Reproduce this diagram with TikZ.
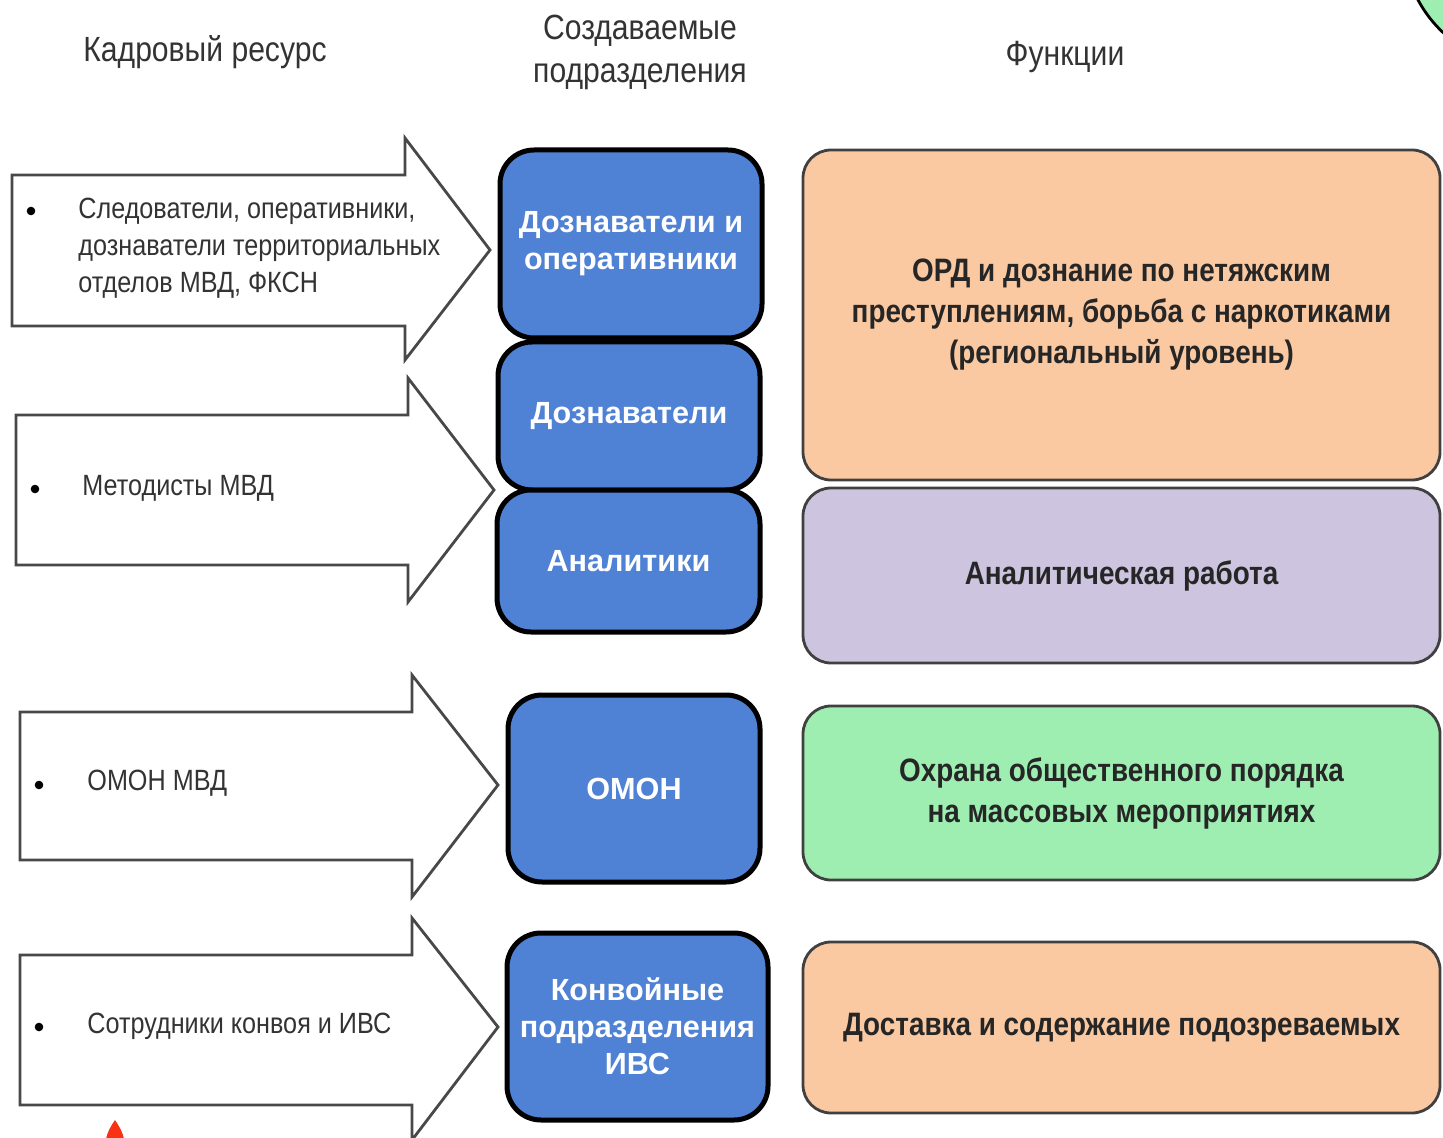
\documentclass[tikz,border=0pt]{standalone}
\usepackage{fontspec}
\setmainfont{Liberation Sans}
\newfontfamily\narrowfont[FakeStretch=0.86]{Liberation Sans}
\definecolor{boxblue}{RGB}{79,129,212}
\definecolor{funcorange}{RGB}{250,201,162}
\definecolor{funcviolet}{RGB}{205,197,223}
\definecolor{funcgreen}{RGB}{158,238,178}
\definecolor{arrowline}{RGB}{72,72,72}
\definecolor{markred}{RGB}{250,50,20}
\begin{document}
\begin{tikzpicture}[x=0.5pt,y=0.5pt,yscale=-1,
  resarrow/.style={draw=arrowline, line width=1.4pt, fill=white, line join=miter},
  unitbox/.style={draw=black, line width=2.5pt, fill=boxblue, rounded corners=17pt, text=white, font=\bfseries\fontsize{15.3}{18.5}\selectfont, align=center, inner sep=0pt},
  funcbox/.style={draw=black!75, line width=1.4pt, rounded corners=14pt, font=\narrowfont\bfseries\fontsize{16.2}{20.5}\selectfont, align=center, text=black!85, inner sep=0pt},
  restext/.style={font=\narrowfont\fontsize{14.65}{18.5}\selectfont, text=black!80, align=left, anchor=west, inner sep=0pt},
  headtext/.style={font=\narrowfont\fontsize{17.5}{21.5}\selectfont, text=black!80, align=center}
]
\useasboundingbox (0,0) rectangle (1443,1138);

%Shape: Circle (cut by the page) [id:top right]
\begin{scope}
\clip (0,0) rectangle (1443,1138);
\draw [fill=funcgreen, line width=1.4pt] (1530,-60) circle (127);
%Shape: red mark at the bottom
\fill [markred] (115,1120) .. controls (119,1126) and (123,1132) .. (124,1140) -- (106,1140) .. controls (107,1132) and (111,1126) .. (115,1120) -- cycle;
\end{scope}

% Text Node
\node [headtext] (hres) at (205,52) {Кадровый ресурс};
% Text Node
\node [headtext] (hunit) at (640,52) {Создаваемые\\подразделения};
% Text Node
\node [headtext] (hfunc) at (1065,57) {Функции};

%Shape: Right Arrow
\draw [resarrow] (12,175) -- (405,175) -- (405,138) -- (490,250) -- (405,360) -- (405,326) -- (12,326) -- cycle ;
%Shape: Right Arrow
\draw [resarrow] (16,415) -- (408,415) -- (408,378) -- (494,490) -- (408,602) -- (408,565) -- (16,565) -- cycle ;
%Shape: Right Arrow
\draw [resarrow] (20,712) -- (412,712) -- (412,675) -- (498,785) -- (412,897) -- (412,860) -- (20,860) -- cycle ;
%Shape: Right Arrow
\draw [resarrow] (20,955) -- (412,955) -- (412,918) -- (498,1027) -- (412,1140) -- (412,1105) -- (20,1105) -- cycle ;

% Text Node
\node [restext] (r1) at (78,248) {Следователи, оперативники,\\дознаватели территориальных\\отделов МВД, ФКСН};
\fill [black] (31,211) circle (4.3);
% Text Node
\node [restext] (r2) at (82,488) {Методисты МВД};
\fill [black] (35,489) circle (4.3);
% Text Node
\node [restext] (r3) at (87,783) {ОМОН МВД};
\fill [black] (39,785) circle (4.3);
% Text Node
\node [restext] (r4) at (87,1026) {Сотрудники конвоя и ИВС};
\fill [black] (39,1027) circle (4.3);

%Rounded Rect
\node [unitbox, minimum width=131pt, minimum height=94pt] (u1) at (631,244) {Дознаватели и\\оперативники};
\node [unitbox, minimum width=131pt, minimum height=74pt] (u2) at (629,416) {Дознаватели};
\node [unitbox, minimum width=131.5pt, minimum height=71pt] (u3) at (628.5,561) {Аналитики};
\node [unitbox, minimum width=126pt, minimum height=93.5pt] (u4) at (634,788.5) {ОМОН};
\node [unitbox, minimum width=130.5pt, minimum height=93.5pt] (u5) at (637.5,1026.5) {Конвойные\\подразделения\\ИВС};

%Rounded Rect
\node [funcbox, fill=funcorange, minimum width=318.5pt, minimum height=165pt] (f1) at (1121.5,315) {ОРД и дознание по нетяжским\\преступлениям, борьба с наркотиками\\(региональный уровень)};
\node [funcbox, fill=funcviolet, minimum width=318.5pt, minimum height=87.5pt] (f2) at (1121.5,575.5) {Аналитическая работа};
\node [funcbox, fill=funcgreen, minimum width=318.5pt, minimum height=87pt] (f3) at (1121.5,793) {Охрана общественного порядка\\на массовых мероприятиях};
\node [funcbox, fill=funcorange, minimum width=318.5pt, minimum height=85.5pt] (f4) at (1121.5,1027.5) {Доставка и содержание подозреваемых};

\end{tikzpicture}
\end{document}
